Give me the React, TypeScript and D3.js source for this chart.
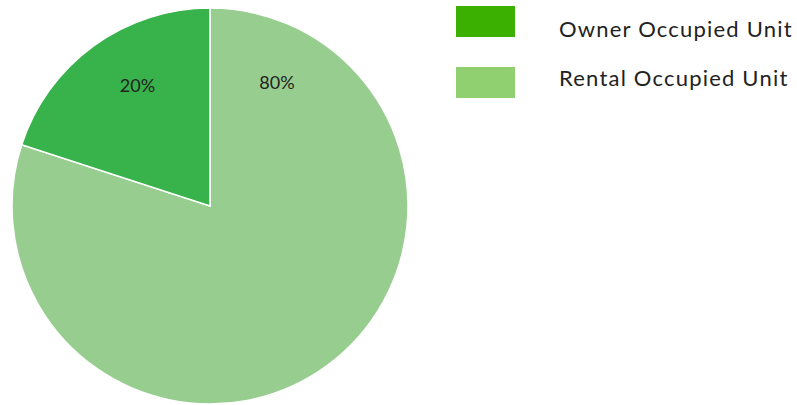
import React from "react";
import * as d3 from "d3";

const categories = ["Owner Occupied Unit", "Rental Occupied Unit"];
const values = [20, 80];
const sliceColors = ["#38b24b", "#98cd90"];
const legendColors = ["#3cb000", "#90d070"];

const W = 797;
const H = 405;

export default function App() {
  const cx = 210, cy = 206, r = 198;
  const total = d3.sum(values);
  // rental drawn first clockwise from 12 o'clock, owner fills remainder
  const order = [1, 0];
  const pie = d3.pie<number>().sort(null).value((i) => values[i]);
  const arcs = pie(order);
  const arc = d3.arc<any>().innerRadius(0).outerRadius(r);
  const labelR = 141;
  const font = "Lato, 'Noto Sans', sans-serif";
  const textBaselines = [37, 86];
  return (
    <svg width={W} height={H} style={{ position: "absolute", left: 0, top: 0 }}>
      <g transform={`translate(${cx},${cy})`}>
        {arcs.map((a) => (
          <path key={a.data} d={arc(a) as string} fill={sliceColors[a.data]} stroke="#fff" strokeWidth={1.5} />
        ))}
        {arcs.map((a) => {
          const span = a.endAngle - a.startAngle;
          const ang = span > Math.PI ? a.startAngle + 0.495 : a.endAngle - 0.54;
          const x = Math.sin(ang) * labelR;
          const y = -Math.cos(ang) * labelR;
          return (
            <text key={"l" + a.data} x={x} y={y} textAnchor="middle" dominantBaseline="central"
              fontFamily={font} fontSize={18} fill="#222">
              {Math.round((values[a.data] / total) * 100)}%
            </text>
          );
        })}
      </g>
      {categories.map((c, i) => (
        <g key={c}>
          <rect x={456} y={6 + i * 61} width={59} height={31} fill={legendColors[i]} />
          <text x={559} y={textBaselines[i]} fontFamily={font} fontSize={22} letterSpacing={1.2} fill="#222">{c}</text>
        </g>
      ))}
    </svg>
  );
}
